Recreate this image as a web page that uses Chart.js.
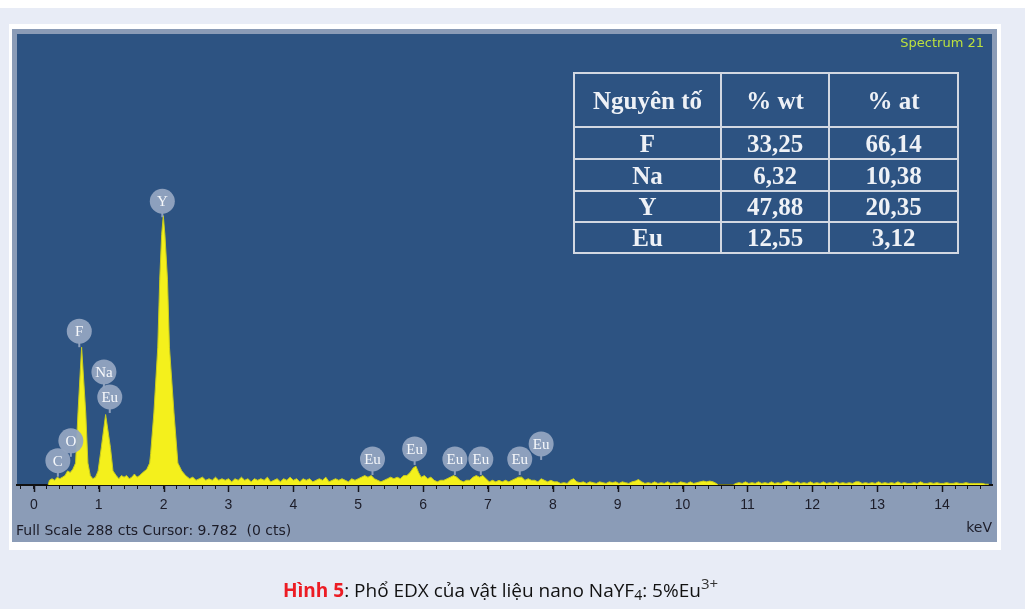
<!DOCTYPE html>
<html>
<head>
<meta charset="utf-8">
<title>EDX NaYF4:5%Eu</title>
<script src="https://cdn.jsdelivr.net/npm/chart.js@4.4.1/dist/chart.umd.min.js"></script>
<style>
  html, body { margin: 0; padding: 0; background: #e8ecf6; }
  #wrap { position: relative; width: 1025px; height: 609px; overflow: hidden; }
  #edx { position: absolute; left: 0; top: 0; }
  table.comp {
    position: absolute; left: 573px; top: 72px;
    border-collapse: collapse; table-layout: fixed;
    font-family: "Liberation Serif", "Times New Roman", serif;
    font-weight: bold; font-size: 25px; color: #eef1f6;
  }
  table.comp td { border: 2px solid #d2d8e2; text-align: center; padding: 0; line-height: 1; }
  #cap {
    position: absolute; left: 283px; top: 578px; white-space: nowrap;
    font-family: "Open Sans", "Noto Sans", sans-serif; font-size: 19px; line-height: 24px; color: #111;
  }
  #cap .red { color: #ec1c24; font-weight: bold; }
  #cap sub { font-size: 14px; line-height: 0; vertical-align: -3px; }
  #cap sup { font-size: 15px; line-height: 0; vertical-align: 8px; color: #333; }
</style>
</head>
<body>
<div id="wrap">
  <canvas id="edx" width="1025" height="609"></canvas>
  <table class="comp" id="comp"></table>
  <div id="cap"><span class="red">Hình 5</span>: Phổ EDX của vật liệu nano NaYF<sub>4</sub>: 5%Eu<sup>3+</sup></div>
</div>
<script>
// ---- spectrum: energy (keV) and counts ----
const energy = [
  0.22, 0.24, 0.28, 0.32, 0.36, 0.40, 0.44, 0.48, 0.52, 0.56, 0.60, 0.643, 0.68, 0.736, 0.80, 0.833, 0.87,
  0.91, 0.95, 0.99, 1.04, 1.106, 1.18, 1.22, 1.27, 1.31, 1.35, 1.39, 1.43, 1.47, 1.51, 1.55, 1.59, 1.63,
  1.68, 1.74, 1.785, 1.80, 1.85, 1.91, 1.94, 1.97, 1.995, 2.02, 2.06, 2.09, 2.16, 2.22, 2.28, 2.34,
  2.40, 2.45, 2.50, 2.55, 2.60, 2.65, 2.70, 2.75, 2.80, 2.85, 2.90, 2.95, 3.00, 3.05, 3.10, 3.15, 3.20,
  3.25, 3.30, 3.35, 3.40, 3.45, 3.50, 3.55, 3.60, 3.65, 3.70, 3.75, 3.80, 3.85, 3.90, 3.95, 4.00, 4.05,
  4.10, 4.15, 4.20, 4.25, 4.30, 4.35, 4.40, 4.45, 4.50, 4.55, 4.60, 4.65, 4.70, 4.75, 4.80, 4.85, 4.90,
  4.95, 5.00, 5.05, 5.10, 5.15, 5.20, 5.25, 5.30, 5.35, 5.40, 5.45, 5.50, 5.55, 5.60, 5.65, 5.70, 5.75,
  5.80, 5.85, 5.89, 5.93, 5.97, 6.02, 6.07, 6.12, 6.17, 6.22, 6.27, 6.32, 6.37, 6.42, 6.47, 6.52, 6.57,
  6.62, 6.67, 6.72, 6.77, 6.82, 6.87, 6.92, 6.97, 7.02, 7.07, 7.12, 7.17, 7.22, 7.27, 7.32, 7.37, 7.42,
  7.47, 7.52, 7.57, 7.62, 7.67, 7.72, 7.77, 7.82, 7.87, 7.92, 7.97, 8.02, 8.07, 8.12, 8.17, 8.22, 8.27,
  8.32, 8.37, 8.42, 8.47, 8.52, 8.57, 8.62, 8.67, 8.72, 8.77, 8.82, 8.87, 8.92, 8.97, 9.02, 9.07, 9.12,
  9.17, 9.22, 9.27, 9.32, 9.37, 9.42, 9.47, 9.52, 9.57, 9.62, 9.67, 9.72, 9.77, 9.82, 9.87, 9.92, 9.97,
  10.02, 10.07, 10.12, 10.17, 10.22, 10.27, 10.32, 10.37, 10.42, 10.47, 10.52, 10.55, 10.78, 10.82, 10.87,
  10.92, 10.97, 11.02, 11.07, 11.12, 11.17, 11.22, 11.27, 11.32, 11.37, 11.42, 11.47, 11.52, 11.57, 11.62,
  11.67, 11.72, 11.77, 11.82, 11.87, 11.92, 11.97, 12.02, 12.07, 12.12, 12.17, 12.22, 12.27, 12.32, 12.37,
  12.42, 12.47, 12.52, 12.57, 12.62, 12.67, 12.72, 12.77, 12.82, 12.87, 12.92, 12.97, 13.02, 13.07, 13.12,
  13.17, 13.22, 13.27, 13.32, 13.37, 13.42, 13.47, 13.52, 13.57, 13.62, 13.67, 13.72, 13.77, 13.82, 13.87,
  13.92, 13.97, 14.02, 14.07, 14.12, 14.17, 14.22, 14.27, 14.32, 14.37, 14.42, 14.47, 14.52, 14.57, 14.62,
  14.67, 14.72
];
const counts = [
  0, 3, 4, 3, 5, 4, 5, 6, 9, 8, 10, 14, 46, 88, 46, 14, 6,
  4, 5, 9, 24, 45, 24, 9, 6, 4, 6, 5, 6, 4, 5, 7, 5, 6,
  8, 10, 14, 20, 46, 88, 131, 160, 172, 160, 131, 88, 46, 14, 9, 6,
  4, 5, 3, 4, 5, 3, 4, 3, 5, 3, 4, 3, 4, 2, 4, 3, 5,
  3, 4, 2, 4, 3, 4, 3, 5, 2, 3, 4, 2, 4, 3, 5, 3, 4,
  2, 4, 3, 4, 2, 3, 4, 3, 5, 2, 3, 4, 3, 4, 3, 2, 4,
  3, 4, 5, 6, 5, 6, 4, 3, 2, 3, 4, 5, 4, 5, 4, 6, 6,
  8, 11, 12, 8, 5, 6, 4, 5, 3, 2, 3, 3, 4, 5, 6, 5, 3,
  2, 3, 3, 5, 6, 5, 6, 4, 2, 3, 2, 3, 2, 3, 2, 3, 4,
  5, 5, 3, 4, 3, 3, 2, 4, 3, 2, 3, 2, 2, 1, 1.5, 1, 3,
  4, 2, 1.5, 2, 1, 2, 1.5, 1, 2, 1.5, 1, 2, 1.5, 2, 1, 2, 1.5,
  1, 2, 2.5, 3.5, 2, 1, 1.5, 1, 2, 1, 1.5, 1, 2, 1, 1.5, 1, 2,
  1.5, 1, 2, 1, 1.5, 2, 2.5, 2, 2.5, 2, 1, 0, 0, 1, 1.5,
  1, 2, 1, 1.5, 1, 2, 1, 1.5, 1, 2, 1, 1.5, 1, 2, 2.5,
  1.5, 1, 2, 1, 1.5, 1, 2, 1, 1.5, 1, 2, 1, 1.5, 1, 2,
  1, 1.5, 1, 1.5, 1, 2, 2, 1, 1.5, 1, 1.5, 1, 2, 1, 1.5,
  1, 1.5, 1, 2, 1, 1.5, 1, 1, 1.5, 1, 2, 1, 1, 1.5, 1,
  1.5, 1, 1, 1.5, 1, 1, 1.5, 1, 1, 1.5, 1, 1, 1, 1, 1,
  0.5, 0.5
];

// ---- identified lines: element, energy (keV), count level of the pin tip ----
const peakNames  = ['C', 'O', 'F', 'Na', 'Eu', 'Y', 'Eu', 'Eu', 'Eu', 'Eu', 'Eu', 'Eu'];
const peakEnergy = [0.37, 0.57, 0.70, 1.08, 1.17, 1.98, 5.22, 5.87, 6.49, 6.89, 7.49, 7.82];
const peakTip    = [5.3, 18, 88, 62, 46, 171, 6.4, 12.8, 6.4, 6.4, 6.4, 16];

// ---- axis ----
const majorTicks = [0, 1, 2, 3, 4, 5, 6, 7, 8, 9, 10, 11, 12, 13, 14];
const minorStep = 0.2;
const xMin = -0.26, xMax = 14.77, fullScale = 288;

// ---- composition table ----
const tableHead = ['Nguyên tố', '% wt', '% at'];
const elements  = ['F', 'Na', 'Y', 'Eu'];
const wtPct     = ['33,25', '6,32', '47,88', '12,55'];
const atPct     = ['66,14', '10,38', '20,35', '3,12'];

// build the composition table
(function buildTable() {
  const t = document.getElementById('comp');
  const cg = document.createElement('colgroup');
  [147, 108, 129].forEach(w => { const c = document.createElement('col'); c.style.width = w + 'px'; cg.appendChild(c); });
  t.appendChild(cg);
  const rowH = [54, 32, 32, 31, 31];
  const rows = [tableHead].concat(elements.map((e, i) => [e, wtPct[i], atPct[i]]));
  rows.forEach((r, i) => {
    const tr = document.createElement('tr');
    tr.style.height = rowH[i] + 'px';
    r.forEach(v => { const td = document.createElement('td'); td.textContent = v; tr.appendChild(td); });
    t.appendChild(tr);
  });
})();

const minorTicks = [];
for (let k = Math.ceil(xMin / minorStep); k * minorStep <= xMax; k++) minorTicks.push(Math.round(k * minorStep * 10) / 10);

// panel backgrounds
const panelPlugin = {
  id: 'panel',
  beforeDraw(chart) {
    const { ctx, chartArea: a } = chart;
    ctx.save();
    ctx.fillStyle = '#e8ecf6'; ctx.fillRect(0, 0, 1025, 609);
    ctx.fillStyle = '#ffffff'; ctx.fillRect(0, 0, 1025, 8);
    ctx.fillRect(9, 24, 992, 526);
    ctx.fillStyle = '#8b9cb7'; ctx.fillRect(12, 29, 985, 513);
    ctx.fillStyle = '#2d5382'; ctx.fillRect(a.left, a.top, a.right - a.left, a.bottom - a.top);
    ctx.restore();
  }
};

// element markers, major ticks and status texts
const markerPlugin = {
  id: 'markers',
  afterDatasetsDraw(chart) {
    const { ctx, scales: { x, y } } = chart;
    ctx.save();
    const r = 12.5;
    peakNames.forEach((name, i) => {
      const px = x.getPixelForValue(peakEnergy[i]);
      const tip = y.getPixelForValue(peakTip[i]);
      const cy = tip - 16;
      ctx.strokeStyle = 'rgba(146,164,192,0.95)';
      ctx.lineWidth = 2;
      ctx.beginPath(); ctx.moveTo(px, cy + r - 1); ctx.lineTo(px, tip); ctx.stroke();
      ctx.fillStyle = 'rgba(146,164,192,0.95)';
      ctx.beginPath(); ctx.arc(px, cy, r, 0, Math.PI * 2); ctx.fill();
      ctx.fillStyle = '#f6f8fb';
      ctx.font = '15px "Liberation Serif", serif';
      ctx.textAlign = 'center'; ctx.textBaseline = 'middle';
      ctx.fillText(name, px, cy + 1);
    });
    ctx.restore();
  },
  afterDraw(chart) {
    const { ctx, scales: { x }, chartArea: a } = chart;
    ctx.save();
    ctx.strokeStyle = '#15151c'; ctx.lineWidth = 1.5;
    majorTicks.forEach(v => {
      const px = Math.round(x.getPixelForValue(v)) + 0.5;
      ctx.beginPath(); ctx.moveTo(px, a.bottom); ctx.lineTo(px, a.bottom + 7); ctx.stroke();
    });
    ctx.fillStyle = '#1c1c28';
    ctx.font = '14px "DejaVu Sans", sans-serif';
    ctx.textAlign = 'left'; ctx.textBaseline = 'alphabetic';
    ctx.fillText('Full Scale 288 cts Cursor: 9.782  (0 cts)', 16, 535);
    ctx.fillStyle = '#bde23e';
    ctx.font = '13px "DejaVu Sans", sans-serif';
    ctx.textAlign = 'right';
    ctx.fillText('Spectrum 21', 984, 47);
    ctx.restore();
  }
};

new Chart(document.getElementById('edx'), {
  type: 'line',
  data: {
    datasets: [{
      data: energy.map((e, i) => ({ x: e, y: counts[i] })),
      fill: 'origin',
      backgroundColor: '#f4f01c',
      borderColor: '#c9cc1e',
      borderWidth: 1,
      pointRadius: 0,
      tension: 0
    }]
  },
  options: {
    responsive: false,
    animation: false,
    devicePixelRatio: 1,
    layout: { padding: { left: 17, right: 33, top: 34, bottom: 0 } },
    plugins: { legend: { display: false }, tooltip: { enabled: false } },
    scales: {
      x: {
        type: 'linear', min: xMin, max: xMax,
        afterFit(s) { s.height = 124; },
        afterBuildTicks(s) { s.ticks = minorTicks.map(v => ({ value: v })); },
        ticks: {
          autoSkip: false, maxRotation: 0, minRotation: 0, padding: 8,
          font: { family: '"Liberation Sans", Arial, sans-serif', size: 14 },
          color: '#1c1c28',
          callback: v => majorTicks.includes(Math.round(v * 10) / 10) ? String(Math.round(v)) : ''
        },
        grid: { drawOnChartArea: false, drawTicks: true, tickLength: 4, tickColor: '#15151c', tickWidth: 1 },
        border: { display: true, color: '#111', width: 2 },
        title: {
          display: true, text: 'keV', align: 'end', color: '#1c1c28',
          font: { family: '"DejaVu Sans", sans-serif', size: 14 },
          padding: { top: 0, bottom: 72 }
        }
      },
      y: { display: false, min: 0, max: fullScale }
    }
  },
  plugins: [panelPlugin, markerPlugin]
});
</script>
</body>
</html>
